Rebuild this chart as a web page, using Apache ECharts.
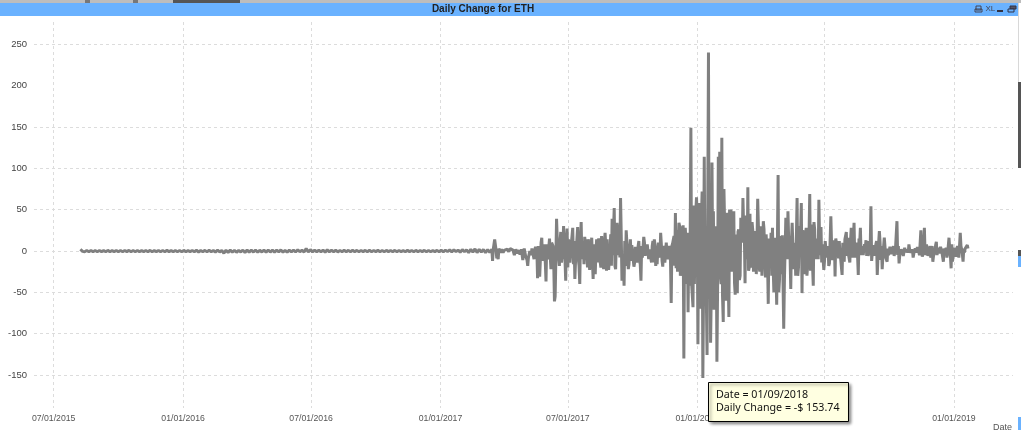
<!DOCTYPE html>
<html><head><meta charset="utf-8">
<style>html,body{margin:0;padding:0;background:#fff;overflow:hidden}#c{width:1021px;height:435px}</style>
<script src="https://cdn.jsdelivr.net/npm/echarts@6/dist/echarts.min.js"></script>
</head><body><div id="c"></div>
<script>
const titleText = 'Daily Change for ETH';
const xTickDates = ['2015-07-01','2016-01-01','2016-07-01','2017-01-01','2017-07-01','2018-01-01','2018-07-01','2019-01-01'];
const yLabelValues = [-150,-100,-50,0,50,100,150,200,250];
const yGridValues = [-150,-100,-50,0,50,100,150,250];
const baseDate = '2015-07-01';
// quiet period: one reading every 3 days, first one 38 days after baseDate
const quietFirstDay = 38, quietStepDays = 3;
const quietValues = [2,-0.5,-1,0.5,-1,0.6,-1,0.5,-0.9,0.6,-0.8,0.5,-1,0.7,-0.9,0.5,-0.8,0.6,-1,0.5,-0.9,0.6,-0.8,0.7,-1,0.5,-0.9,0.6,-1,0.5,-0.8,0.6,-0.9,0.7,-1,0.5,-0.8,0.6,-1,0.5,-0.9,0.7,-0.8,0.5,-1,0.6,-0.9,0.5,-1,0.7,-0.9,0.5,-0.8,0.6,-1,0.8,-1.2,0.6,-0.9,0.7,-1.1,0.8,-1,0.6,-1.3,1,-1.2,0.7,-2.8,0.9,-1.8,1,-1.4,0.8,-1.6,0.7,-1.2,1,-2,1.2,-1.4,0.9,-1.3,1.1,-1.5,0.8,-1.2,1,-1.6,1.2,-1.3,0.9,-1.5,1,-1.2,1.2,-1.4,0.8,-1.6,1,-1.2,1.1,-1.3,1.4,-1,0.8,-1.2,3,-1.3,1.6,-1.1,1,-1,0.9,-1.2,1,-1.4,1.3,-1,0.8,-1,0.9,-1.2,0.7,-1,0.8,-0.9,0.7,-1,0.8,-0.9,0.7,-1,0.6,-0.8,0.7,-1,0.8,-0.9,0.6,-0.8,0.7,-0.9,0.6,-1,0.7,-0.8,0.6,-0.9,0.7,-1,0.6,-0.8,0.5,-0.9,0.7,-0.8,0.6,-1,0.7,-0.9,0.6,-0.8,0.7,-1,0.6,-0.9,0.5,-0.8,0.7,-1,0.9,-1.2,1,-0.8,1.2,-1.2,1.4,-0.8,1,-1.5,1.6,-1,1.4,-2,2,-1.5,2.5,-2,2,-1.5,1.8,-2,1.5,-1.8,2,-1.6,2.2,-2,1.6,-2.2,2.4,-1.8,2];
// active period, clearest peaks: days since baseDate and the matching change
const activeDays = [624,627,630,632,634,639,643,647,651,656,660,664,667,670,673,674,677,680,684,687,688,691,694,697,700,701,704,707,710,712,713,715,718,721,723,725,728,730,734,738,741,745,748,750,752,755,758,762,764,767,770,771,774,777,780,782,785,788,789,791,794,795,797,799,801,802,804,805,806,808,809,811,814,817,819,822,825,828,829,832,835,838,839,842,845,846,849,854,856,859,863,866,869,872,875,878,881,884,885,888,889,892,893,895,896,899,902,903,906,907,909,912,915,916,919,920,923,925,926,929,931,934,936,937,939,941,943,945,946,947,949,950,952,954,956,957,959,960,963,966,967,969,970,972,973,976,979,980,983,984,986,987,989,990,992,994,997,1000,1001,1004,1007,1009,1011,1014,1016,1018,1020,1021,1024,1026,1028,1030,1031,1034,1036,1038,1041,1043,1044,1047,1048,1051,1053,1054,1057,1058,1060,1063,1064,1067,1068,1070,1073,1075,1080,1081,1083,1084,1088,1090,1091,1094,1095,1098,1102,1105,1107,1111,1112,1115,1118,1121,1122,1127,1130,1134,1135,1138,1144,1145,1147,1149,1152,1155,1158,1161,1162,1165,1168,1171,1174,1175,1178,1181,1182,1185,1188,1192,1196,1199,1202,1205,1209,1213,1216,1219,1222,1225,1228,1230,1233,1235,1238,1240,1242,1245,1248,1250,1253,1255,1258,1260,1265,1267,1270,1273,1276,1278,1281,1284,1289,1291,1293,1296,1299,1300];
const activeChanges = [-12,14,-9,-10,2,-2,1,-1,3,-1,1,-3,-11,1,-11,-18,0,3,0,1,-33,-31,16,8,-37,8,5,-22,6,-61,-55,39,-9,23,-5,30,-36,27,-14,28,-34,29,-40,35,-11,17,-2,-23,5,-34,-28,0,12,-13,5,-22,6,-10,-23,-4,39,-5,52,-22,34,-5,32,-8,64,-36,-10,-42,25,-22,3,7,-19,-5,-14,12,-36,5,17,0,10,-10,2,14,-18,3,22,-19,-14,-3,6,-63,10,46,-21,5,34,-22,30,31,-130,12,-74,10,149,-39,-68,30,36,-113,-20,-70,-153.74,114,-30,-126,240,-111,107,-20,-71,20,-134,114,-30,120,-40,137,-86,30,-60,46,-30,-80,50,-20,48,-53,20,-51,23,-30,10,64,-39,43,-10,77,-20,45,-11,25,-7,10,63,-25,-30,36,-11,0,-64,-15,22,-30,-50,10,-65,92,-50,-10,19,-94,40,-10,48,-5,-46,36,-23,10,64,-30,20,58,-51,8,-28,28,-10,69,-42,35,-10,5,62,-5,29,-10,-23,11,-18,42,-11,-31,15,5,-5,-29,10,23,-4,28,-3,34,-29,15,28,-3,3,13,-6,5,54,7,0,-29,24,10,-22,16,5,-13,-1,5,-5,36,-15,2,-1,0,8,-2,-8,3,5,-1,25,-7,28,0,8,0,-4,-13,1,11,0,-3,-13,4,-8,16,-21,-13,4,-3,22,2,-13,3,7,3];
// dense band around zero, odd days: one reading every 2 days from day 625 (a peak on the same day wins)
const bandFirstDay = 625, bandStepDays = 2;
const bandValues = [2,-3,1,-2,3,-2,2,-3,1,-2,2,-4,3,-6,1,-5,2,-3,3,-4,2,-3,3,-6,4,-8,2,-5,3,-10,5,-8,6,
-10,10,-12,8,-14,12,-10,15,-8,12,-16,10,-12,14,-18,16,-14,12,-10,15,-20,14,-12,18,-16,10,-14,12,-18,15,-10,12,-16,14,-20,10,-14,16,-12,8,
12,-14,15,-10,18,-16,10,-20,14,-12,22,-18,16,-20,24,-15,20,-25,18,-22,15,-18,10,-14,12,-12,8,-10,5,-10,6,-12,3,-8,8,-6,4,-12,2,-10,6,-14,8,-8,5,-4,10,-12,3,-15,10,-10,4,-12,6,
20,-18,12,-25,15,-30,20,-25,12,-30,22,-35,18,-28,25,-40,30,-45,35,-50,40,-45,50,-55,45,-60,60,-50,70,-60,80,-55,60,-70,70,-55,75,-50,55,-45,50,-35,40,-45,35,-30,30,-35,40,-25,28,-35,35,-30,45,-20,35,-25,30,-28,25,-20,30,-15,18,-22,20,-12,15,-18,12,-20,16,-25,10,-22,18,-28,20,-35,8,-30,15,-25,12,-30,25,-30,28,-20,30,-25,25,-22,20,-30,25,-15,12,-18,
10,-12,15,-10,12,-14,8,-15,12,-8,6,-15,10,-12,8,-6,10,-14,12,-10,15,-8,14,-12,16,-6,12,-10,14,-8,10,-6,5,-8,4,-5,8,-10,12,-8,10,-12,14,-6,8,-10,10,-4,
6,-6,4,-8,3,-5,5,-4,2,-6,4,-3,6,-5,5,-2,2,-1,1,-2,2,-1,2,-3,3,-2,4,-5,2,-3,6,-5,8,-6,10,-8,6,-6,5,-7,4,-3,5,-2,3,-5,4,-3,2,-6,8,-4,5,-7,6,-8,5,-3,4,-2];
// dense band around zero, even days from day 700
const evenBandFirstDay = 700, evenBandStepDays = 2;
const evenBandValues = [8,-10,12,-6,10,-12,6,-10,14,-8,12,-14,8,-6,12,-10,14,-16,10,-8,12,-12,15,-10,8,-14,12,-16,10,-8,14,-10,12,-12,8,-6,
14,-16,12,-20,18,-14,22,-24,16,-12,20,-22,26,-18,14,-20,18,-16,24,-14,12,-18,10,-16,14,-12,8,-14,10,-8,12,-16,6,-12,10,-18,8,-10,4,-14,12,-6,6,-16,10,-8,8,-14,6,-12,14,-10,5,-15,9,
18,-22,25,-16,30,-28,22,-32,28,-40,35,-42,48,-38,55,-60,65,-50,58,-62,72,-48,60,-58,52,-45,40,-38,48,-35,30,-42,38,-30,45,-28,32,-36,42,-30,35,-25,28,-38,34,-26,
26,-20,32,-28,22,-34,36,-24,28,-30,34,-18,24,-26,30,-20,22,-28,26,-32,18,-24,20,-30,28,-22,16,-26,32,-34,20,-28,24,-36,30,-26,18,-30,34,-22,26,-28,30,-20,24,-32,22,-26,28,-18,20,-24,32,-22,26,-14,
12,-10,16,-14,10,-12,14,-8,11,-16,9,-10,13,-14,7,-9,15,-11,10,-13,12,-6,9,-14,11,-8,15,-10,7,-12,9,-5,6,-9,5,-6,11,-8,10,-12,8,-9,12,-7,6,-11,9,-6,
5,-7,3,-6,4,-4,6,-3,3,-5,2,-2,4,-6,4,-1,1,-2,2,-1,1,-2,3,-2,2,-4,3,-3,5,-4,7,-5,6,-7,9,-6,7,-5,4,-6,5,-4,3,-3,4,-4,3,-5,7,-5,3,-8,5,-7,6,-4,3,-2,5,-3];
const tipLines = ['Date = 01/09/2018','Daily Change = -$ 153.74'];

const DAY = 86400000, base = Date.parse(baseDate+'T00:00:00Z');
const seriesData = [];
quietValues.forEach((v,i)=>{const d=quietFirstDay+i*quietStepDays; if(d<624) seriesData.push([d, v]);});
const usedDays = new Set(activeDays);
const activeRows = activeDays.map((d,i)=>[d, activeChanges[i]]);
bandValues.forEach((v,i)=>{const d=bandFirstDay+i*bandStepDays; if(!usedDays.has(d)&&d<1300) activeRows.push([d,v]);});
evenBandValues.forEach((v,i)=>{const d=evenBandFirstDay+i*evenBandStepDays; if(!usedDays.has(d)&&d<1300) activeRows.push([d,v]);});
activeRows.sort((a,b)=>a[0]-b[0]);
activeRows.forEach(r=>seriesData.push(r));
const xTicks = xTickDates.map(s=>Math.round((Date.parse(s+'T00:00:00Z')-base)/DAY));
const pad = n=>String(n).padStart(2,'0');
const fmtDay = n=>{const d=new Date(base+n*DAY);return pad(d.getUTCMonth()+1)+'/'+pad(d.getUTCDate())+'/'+d.getUTCFullYear();};

const chart = echarts.init(document.getElementById('c'),null,{renderer:'canvas'});
const F='"Liberation Sans",Arial,sans-serif';
const dash={color:'#dcdcdc',width:1,type:[3,3]};
chart.setOption({
  animation:false,backgroundColor:'#fff',
  grid:{left:34,top:22,width:979,height:386,containLabel:false},
  xAxis:{type:'value',min:-28,max:1364,
    axisLine:{show:false},
    axisTick:{show:false,customValues:xTicks},
    axisLabel:{customValues:xTicks,formatter:v=>fmtDay(v),fontFamily:F,fontSize:8.7,color:'#555',margin:6},
    splitLine:{show:true,lineStyle:dash}},
  yAxis:{type:'value',min:-190,max:277,
    axisLine:{show:false},
    axisTick:{show:false,customValues:yGridValues},
    axisLabel:{customValues:yLabelValues,fontFamily:F,fontSize:9.5,color:'#444',margin:7},
    splitLine:{show:true,lineStyle:dash}},
  series:[{type:'line',data:seriesData,showSymbol:false,symbol:'none',sampling:false,
    lineStyle:{color:'#808080',width:3,join:'bevel'},z:3,silent:true}],
  graphic:[
    {type:'rect',shape:{x:0,y:0,width:1021,height:3},style:{fill:'#bdbdbd'},z:50},
    {type:'rect',shape:{x:173,y:0,width:67,height:3},style:{fill:'#555'},z:51},
    {type:'rect',shape:{x:85,y:0,width:5,height:3},style:{fill:'#777'},z:51},
    {type:'rect',shape:{x:133,y:0,width:5,height:3},style:{fill:'#777'},z:51},
    {type:'rect',shape:{x:0,y:3,width:1018,height:13},style:{fill:'#6AB2FF'},z:50},
    {type:'text',x:483,y:9.5,style:{text:titleText,font:'bold 10px '+F,fill:'#222',align:'center',verticalAlign:'middle'},z:52},
    {type:'rect',shape:{x:976,y:6,width:5,height:4},style:{fill:'none',stroke:'#445',lineWidth:1},z:52},
    {type:'rect',shape:{x:975,y:9,width:7,height:3},style:{fill:'none',stroke:'#445',lineWidth:1},z:52},
    {type:'text',x:985.5,y:9,style:{text:'XL',font:'8px '+F,fill:'#445',align:'left',verticalAlign:'middle'},z:52},
    {type:'rect',shape:{x:997,y:10,width:6,height:2},style:{fill:'#334'},z:52},
    {type:'rect',shape:{x:1010,y:6,width:6,height:3},style:{fill:'#556',stroke:'#334',lineWidth:1},z:52},
    {type:'rect',shape:{x:1008,y:9,width:6,height:3},style:{fill:'#6AB2FF',stroke:'#334',lineWidth:1},z:52},
    {type:'rect',shape:{x:1018,y:3,width:1,height:79},style:{fill:'#d8d8d8'},z:50},
    {type:'rect',shape:{x:1018,y:82,width:3,height:86},style:{fill:'#555'},z:51},
    {type:'rect',shape:{x:1018,y:250,width:3,height:6},style:{fill:'#555'},z:51},
    {type:'rect',shape:{x:1018,y:256,width:3,height:11},style:{fill:'#6AB2FF'},z:51},
    {type:'rect',shape:{x:1018,y:417,width:3,height:13},style:{fill:'#6AB2FF'},z:51},
    {type:'text',x:993,y:428,style:{text:'Date',font:'9px '+F,fill:'#555',align:'left',verticalAlign:'middle'},z:52},
    {type:'rect',shape:{x:708.5,y:382.5,width:140,height:39},style:{fill:'#FFFFE1',stroke:'#000',lineWidth:1,shadowBlur:3,shadowColor:'rgba(0,0,0,.45)',shadowOffsetX:2,shadowOffsetY:2},z:60},
    {type:'text',x:716,y:395,style:{text:tipLines[0],font:'10.7px "Noto Sans",sans-serif',fill:'#111',align:'left',verticalAlign:'middle'},z:61},
    {type:'text',x:716,y:408,style:{text:tipLines[1],font:'10.7px "Noto Sans",sans-serif',fill:'#111',align:'left',verticalAlign:'middle'},z:61}
  ]
});
</script></body></html>
